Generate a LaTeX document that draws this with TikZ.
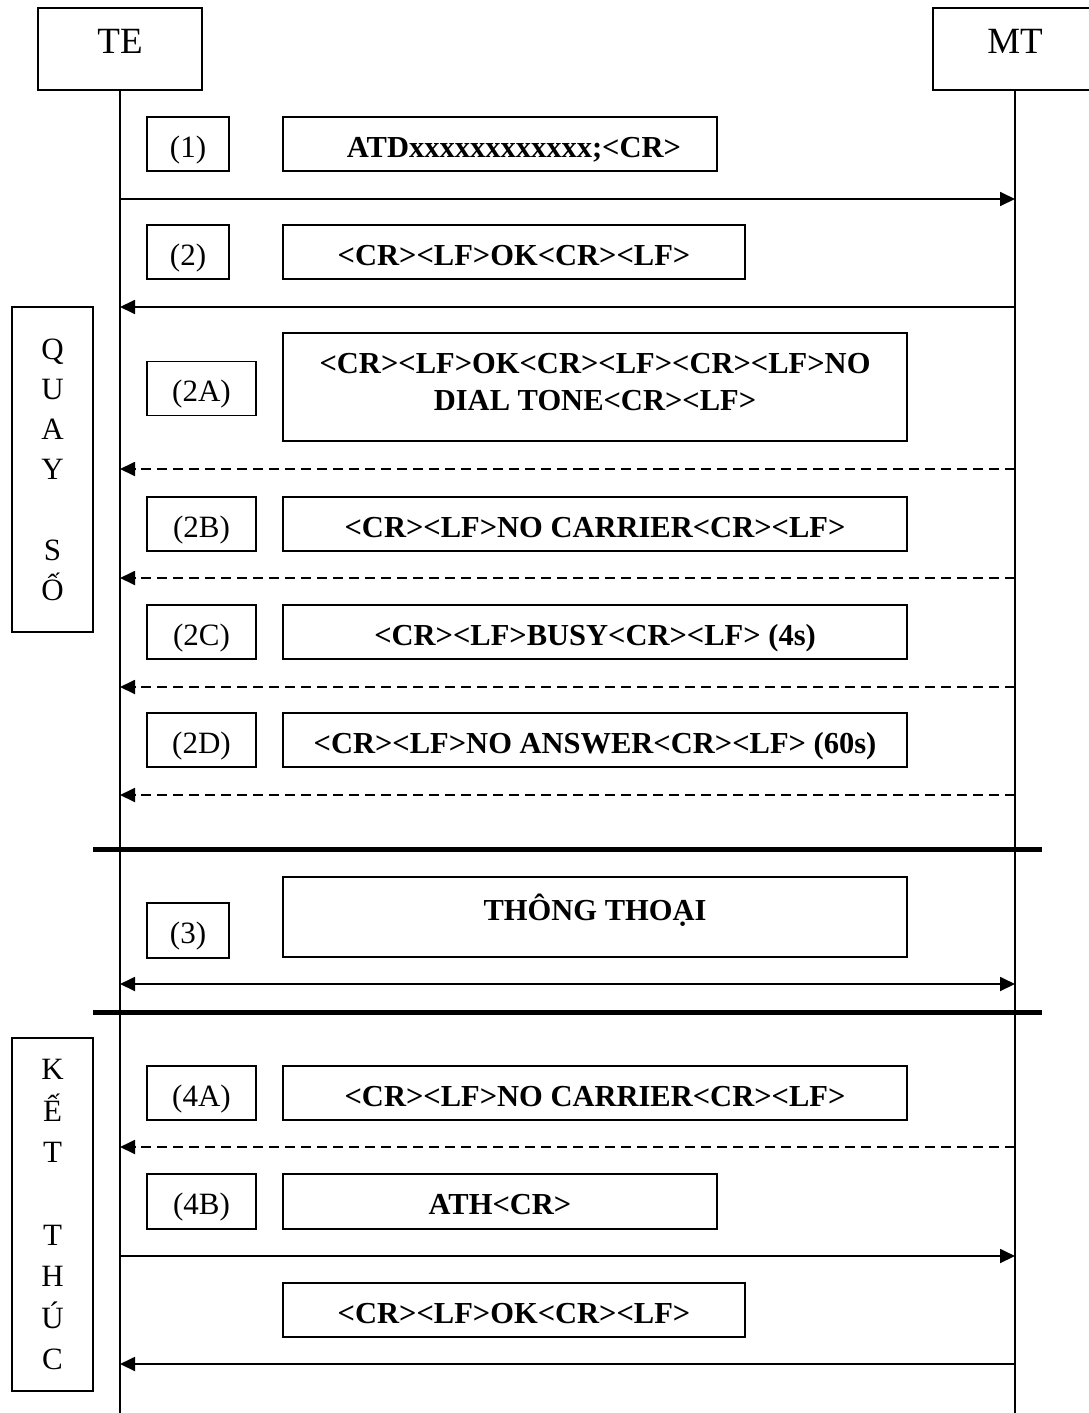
\documentclass[tikz,border=0pt]{standalone}
\usepackage{fontspec}
\setmainfont{Liberation Serif}
\usetikzlibrary{arrows.meta}

\begin{document}
\begin{tikzpicture}[
x=1pt,y=-1pt,
entity/.style={draw,line width=1.8pt,minimum width=164pt,minimum height=82pt,inner sep=0pt,font=\fontsize{37}{44}\selectfont,text height=26pt,text depth=16pt},
phase/.style={draw,line width=1.8pt,minimum width=81pt,inner sep=0pt,align=center},
tag/.style={draw,line width=1.8pt,minimum height=54pt,inner sep=0pt,font=\fontsize{31}{36}\selectfont,text height=28pt,text depth=2pt},
msg/.style={draw,line width=1.8pt,minimum width=624pt,minimum height=54pt,inner sep=0pt,font=\bfseries\fontsize{30.5}{37}\selectfont},
oneline/.style={text height=28pt,text depth=2pt},
life/.style={line width=1.8pt},
call/.style={line width=1.8pt,-{Triangle[length=15pt,width=14pt]}},
reply/.style={call,dash pattern=on 10pt off 6pt},
both/.style={line width=1.8pt,{Triangle[length=15pt,width=14pt]}-{Triangle[length=15pt,width=14pt]}},
sep/.style={line width=5pt},
]
\useasboundingbox (0,0) rectangle (1089,1413);

%entities
\node[entity] (TE) at (120,49) {TE};
\node[entity] (MT) at (1015,49) {MT};
\coordinate (TEend) at (120,1413);
\coordinate (MTend) at (1015,1413);
\draw[life] (TE) -- (TEend);
\draw[life] (MT) -- (MTend);

%phases
\node[phase,minimum height=325pt,font=\fontsize{31}{40.2}\selectfont] (dial) at (52.5,469.5) {Q\\U\\A\\Y\\~\\S\\Ố};
\node[phase,minimum height=353pt,font=\fontsize{31}{41.4}\selectfont] (hangup) at (52.5,1214.5) {K\\Ế\\T\\~\\T\\H\\Ú\\C};

%separators
\coordinate (sepA1) at (93,849);
\coordinate (sepA2) at (1042,849);
\coordinate (sepB1) at (93,1012);
\coordinate (sepB2) at (1042,1012);
\draw[sep] (sepA1) -- (sepA2);
\draw[sep] (sepB1) -- (sepB2);

%dial
\node[tag,minimum width=82pt] (n1) at (188,144) {(1)};
\node[msg,oneline,minimum width=434pt] (m1) at (500,144) {\hspace*{28pt}ATDxxxxxxxxxxxx;<CR>};
\coordinate (te1) at (120,199);
\coordinate (mt1) at (1015,199);
\draw[call] (te1) -- (mt1);

\node[tag,minimum width=82pt] (n2) at (188,252) {(2)};
\node[msg,oneline,minimum width=462pt] (m2) at (514,252) {<CR><LF>OK<CR><LF>};
\coordinate (te2) at (120,307);
\coordinate (mt2) at (1015,307);
\draw[call] (mt2) -- (te2);

\node[tag,minimum width=109pt] (n2a) at (201.5,388.5) {(2A)};
\node[msg,minimum height=108pt,align=center] (m2a) at (595,387) {<CR><LF>OK<CR><LF><CR><LF>NO\\DIAL TONE<CR><LF>\\[-26pt]};
\coordinate (te2a) at (120,469);
\coordinate (mt2a) at (1015,469);
\draw[reply] (mt2a) -- (te2a);

\node[tag,minimum width=109pt] (n2b) at (201.5,524) {(2B)};
\node[msg,oneline] (m2b) at (595,524) {<CR><LF>NO CARRIER<CR><LF>};
\coordinate (te2b) at (120,578);
\coordinate (mt2b) at (1015,578);
\draw[reply] (mt2b) -- (te2b);

\node[tag,minimum width=109pt] (n2c) at (201.5,632) {(2C)};
\node[msg,oneline] (m2c) at (595,632) {<CR><LF>BUSY<CR><LF> (4s)};
\coordinate (te2c) at (120,687);
\coordinate (mt2c) at (1015,687);
\draw[reply] (mt2c) -- (te2c);

\node[tag,minimum width=109pt] (n2d) at (201.5,740) {(2D)};
\node[msg,oneline] (m2d) at (595,740) {<CR><LF>NO ANSWER<CR><LF> (60s)};
\coordinate (te2d) at (120,795);
\coordinate (mt2d) at (1015,795);
\draw[reply] (mt2d) -- (te2d);

%talk
\node[tag,minimum width=82pt,minimum height=55pt] (n3) at (188,930.5) {(3)};
\node[msg,minimum height=80pt,text height=16pt,text depth=10pt] (m3) at (595,917) {THÔNG THOẠI};
\coordinate (te3) at (120,984);
\coordinate (mt3) at (1015,984);
\draw[both] (te3) -- (mt3);

%hang up
\node[tag,minimum width=109pt] (n4a) at (201.5,1093) {(4A)};
\node[msg,oneline] (m4a) at (595,1093) {<CR><LF>NO CARRIER<CR><LF>};
\coordinate (te4a) at (120,1147);
\coordinate (mt4a) at (1015,1147);
\draw[reply] (mt4a) -- (te4a);

\node[tag,minimum width=109pt,minimum height=55pt] (n4b) at (201.5,1201.5) {(4B)};
\node[msg,oneline,minimum width=434pt,minimum height=55pt] (m4b) at (500,1201.5) {ATH<CR>};
\coordinate (te4b) at (120,1256);
\coordinate (mt4b) at (1015,1256);
\draw[call] (te4b) -- (mt4b);

\node[msg,oneline,minimum width=462pt] (m5) at (514,1310) {<CR><LF>OK<CR><LF>};
\coordinate (te5) at (120,1364);
\coordinate (mt5) at (1015,1364);
\draw[call] (mt5) -- (te5);

\end{tikzpicture}
\end{document}
